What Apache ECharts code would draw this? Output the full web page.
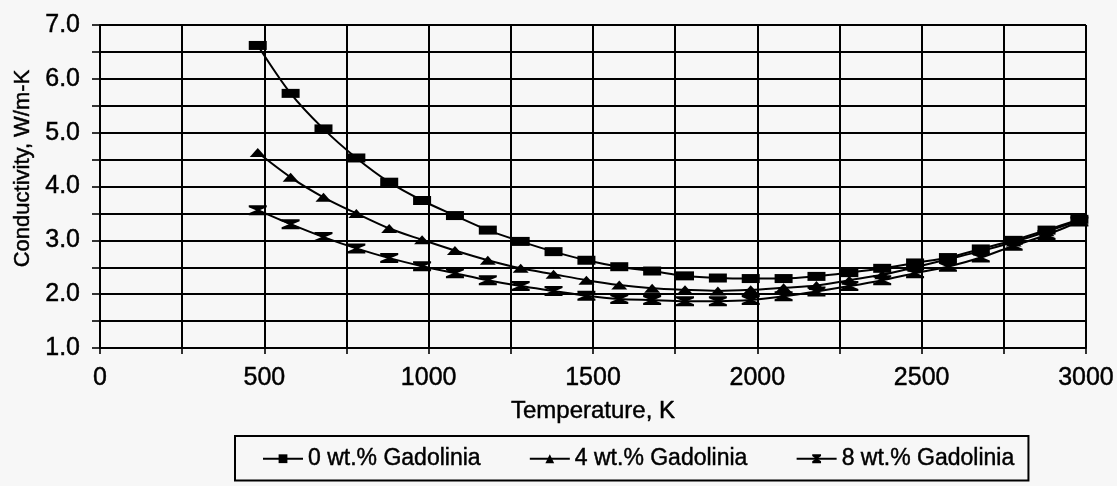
<!DOCTYPE html>
<html>
<head>
<meta charset="utf-8">
<script src="https://cdn.jsdelivr.net/npm/echarts@6/dist/echarts.min.js"></script>
<style>
  html, body { margin: 0; padding: 0; background: #f7f7f7; }
  #chart { width: 1117px; height: 486px; }
</style>
</head>
<body>
<div id="chart"></div>
<script>
// Temperatures (K) at which conductivity is tabulated
const temps = [480, 580, 680, 780, 880, 980, 1080, 1180, 1280, 1380, 1480, 1580, 1680,
               1780, 1880, 1980, 2080, 2180, 2280, 2380, 2480, 2580, 2680, 2780, 2880, 2980];

// Thermal conductivity, W/m-K
const gd0 = [6.62, 5.73, 5.07, 4.53, 4.08, 3.74, 3.46, 3.19, 2.98, 2.79, 2.63, 2.51, 2.43,
             2.34, 2.30, 2.29, 2.29, 2.33, 2.40, 2.48, 2.58, 2.68, 2.84, 3.00, 3.19, 3.39];
const gd4 = [4.63, 4.17, 3.80, 3.50, 3.22, 3.01, 2.81, 2.63, 2.48, 2.37, 2.26, 2.17, 2.11,
             2.08, 2.06, 2.08, 2.12, 2.16, 2.26, 2.36, 2.50, 2.65, 2.80, 2.97, 3.16, 3.37];
const gd8 = [3.56, 3.30, 3.06, 2.85, 2.67, 2.52, 2.39, 2.26, 2.15, 2.06, 1.97, 1.91, 1.89,
             1.87, 1.87, 1.89, 1.96, 2.05, 2.15, 2.26, 2.39, 2.51, 2.68, 2.90, 3.10, 3.35];

const seriesNames = ['0 wt.% Gadolinia', '4 wt.% Gadolinia', '8 wt.% Gadolinia'];

// Axis ranges and label steps
const xMin = 0, xMax = 3000, xGridStep = 250, xLabelStep = 500;
const yMin = 1, yMax = 7, yGridStep = 0.5, yLabelStep = 1;

const FONT = '"Liberation Sans", Arial, sans-serif';
const INK = '#000';

// Slightly heavier text strokes
const heavy = { textBorderColor: INK, textBorderWidth: 0.45 };

// Horizontal hourglass marker
const hourglass = 'path://M0,0 H20 V2 L12,5 L20,8 V10 H0 V8 L8,5 L0,2 Z';

function lineSeries(name, values, symbol, size) {
  return {
    name: name,
    type: 'line',
    data: temps.map((t, i) => [t, values[i]]),
    smooth: 0.3,
    symbol: symbol,
    symbolSize: size,
    showAllSymbol: true,
    lineStyle: { color: INK, width: 2 },
    itemStyle: { color: INK, borderWidth: 0 },
    emphasis: { disabled: true },
    z: 3
  };
}

const chart = echarts.init(document.getElementById('chart'), null, { renderer: 'canvas' });

chart.setOption({
  backgroundColor: '#f7f7f7',
  animation: false,
  textStyle: { fontFamily: FONT, color: INK },
  grid: { left: 100, right: 27, top: 25, bottom: 138, containLabel: false },
  xAxis: {
    type: 'value',
    min: xMin, max: xMax, interval: xGridStep,
    name: 'Temperature, K',
    nameLocation: 'middle',
    nameGap: 51,
    nameTextStyle: Object.assign({ fontFamily: FONT, fontSize: 24, color: INK }, heavy),
    axisLine: { show: true, onZero: false, lineStyle: { color: INK, width: 2 } },
    axisTick: { show: true, length: 6, lineStyle: { color: INK, width: 1.6 } },
    axisLabel: Object.assign({
      fontFamily: FONT, fontSize: 25, color: INK, margin: 18,
      formatter: v => (v % xLabelStep === 0 ? String(v) : '')
    }, heavy),
    splitLine: { show: true, lineStyle: { color: INK, width: 2 } }
  },
  yAxis: {
    type: 'value',
    min: yMin, max: yMax, interval: yGridStep,
    name: 'Conductivity, W/m-K',
    nameLocation: 'middle',
    nameGap: 66,
    nameTextStyle: Object.assign({ fontFamily: FONT, fontSize: 22, color: INK, padding: [0, 0, 0, 36] }, heavy),
    axisLine: { show: true, lineStyle: { color: INK, width: 2 } },
    axisTick: { show: true, length: 8, lineStyle: { color: INK, width: 1.6 } },
    axisLabel: Object.assign({
      fontFamily: FONT, fontSize: 25, color: INK, margin: 20,
      formatter: v => (Math.abs(v % yLabelStep) < 1e-9 ? v.toFixed(1) : '')
    }, heavy),
    splitLine: { show: true, lineStyle: { color: INK, width: 2 } }
  },
  legend: {
    data: seriesNames,
    left: 235,
    top: 436,
    orient: 'horizontal',
    padding: [11, 14, 10, 27],
    itemGap: 48,
    itemWidth: 40,
    itemHeight: 11,
    borderColor: INK,
    borderWidth: 2,
    borderRadius: 0,
    textStyle: Object.assign({ fontFamily: FONT, fontSize: 23, color: INK }, heavy),
    selectedMode: false
  },
  series: [
    lineSeries(seriesNames[0], gd0, 'rect', [18, 9]),
    lineSeries(seriesNames[1], gd4, 'triangle', [16, 9]),
    lineSeries(seriesNames[2], gd8, hourglass, [18, 10])
  ]
});
</script>
</body>
</html>
